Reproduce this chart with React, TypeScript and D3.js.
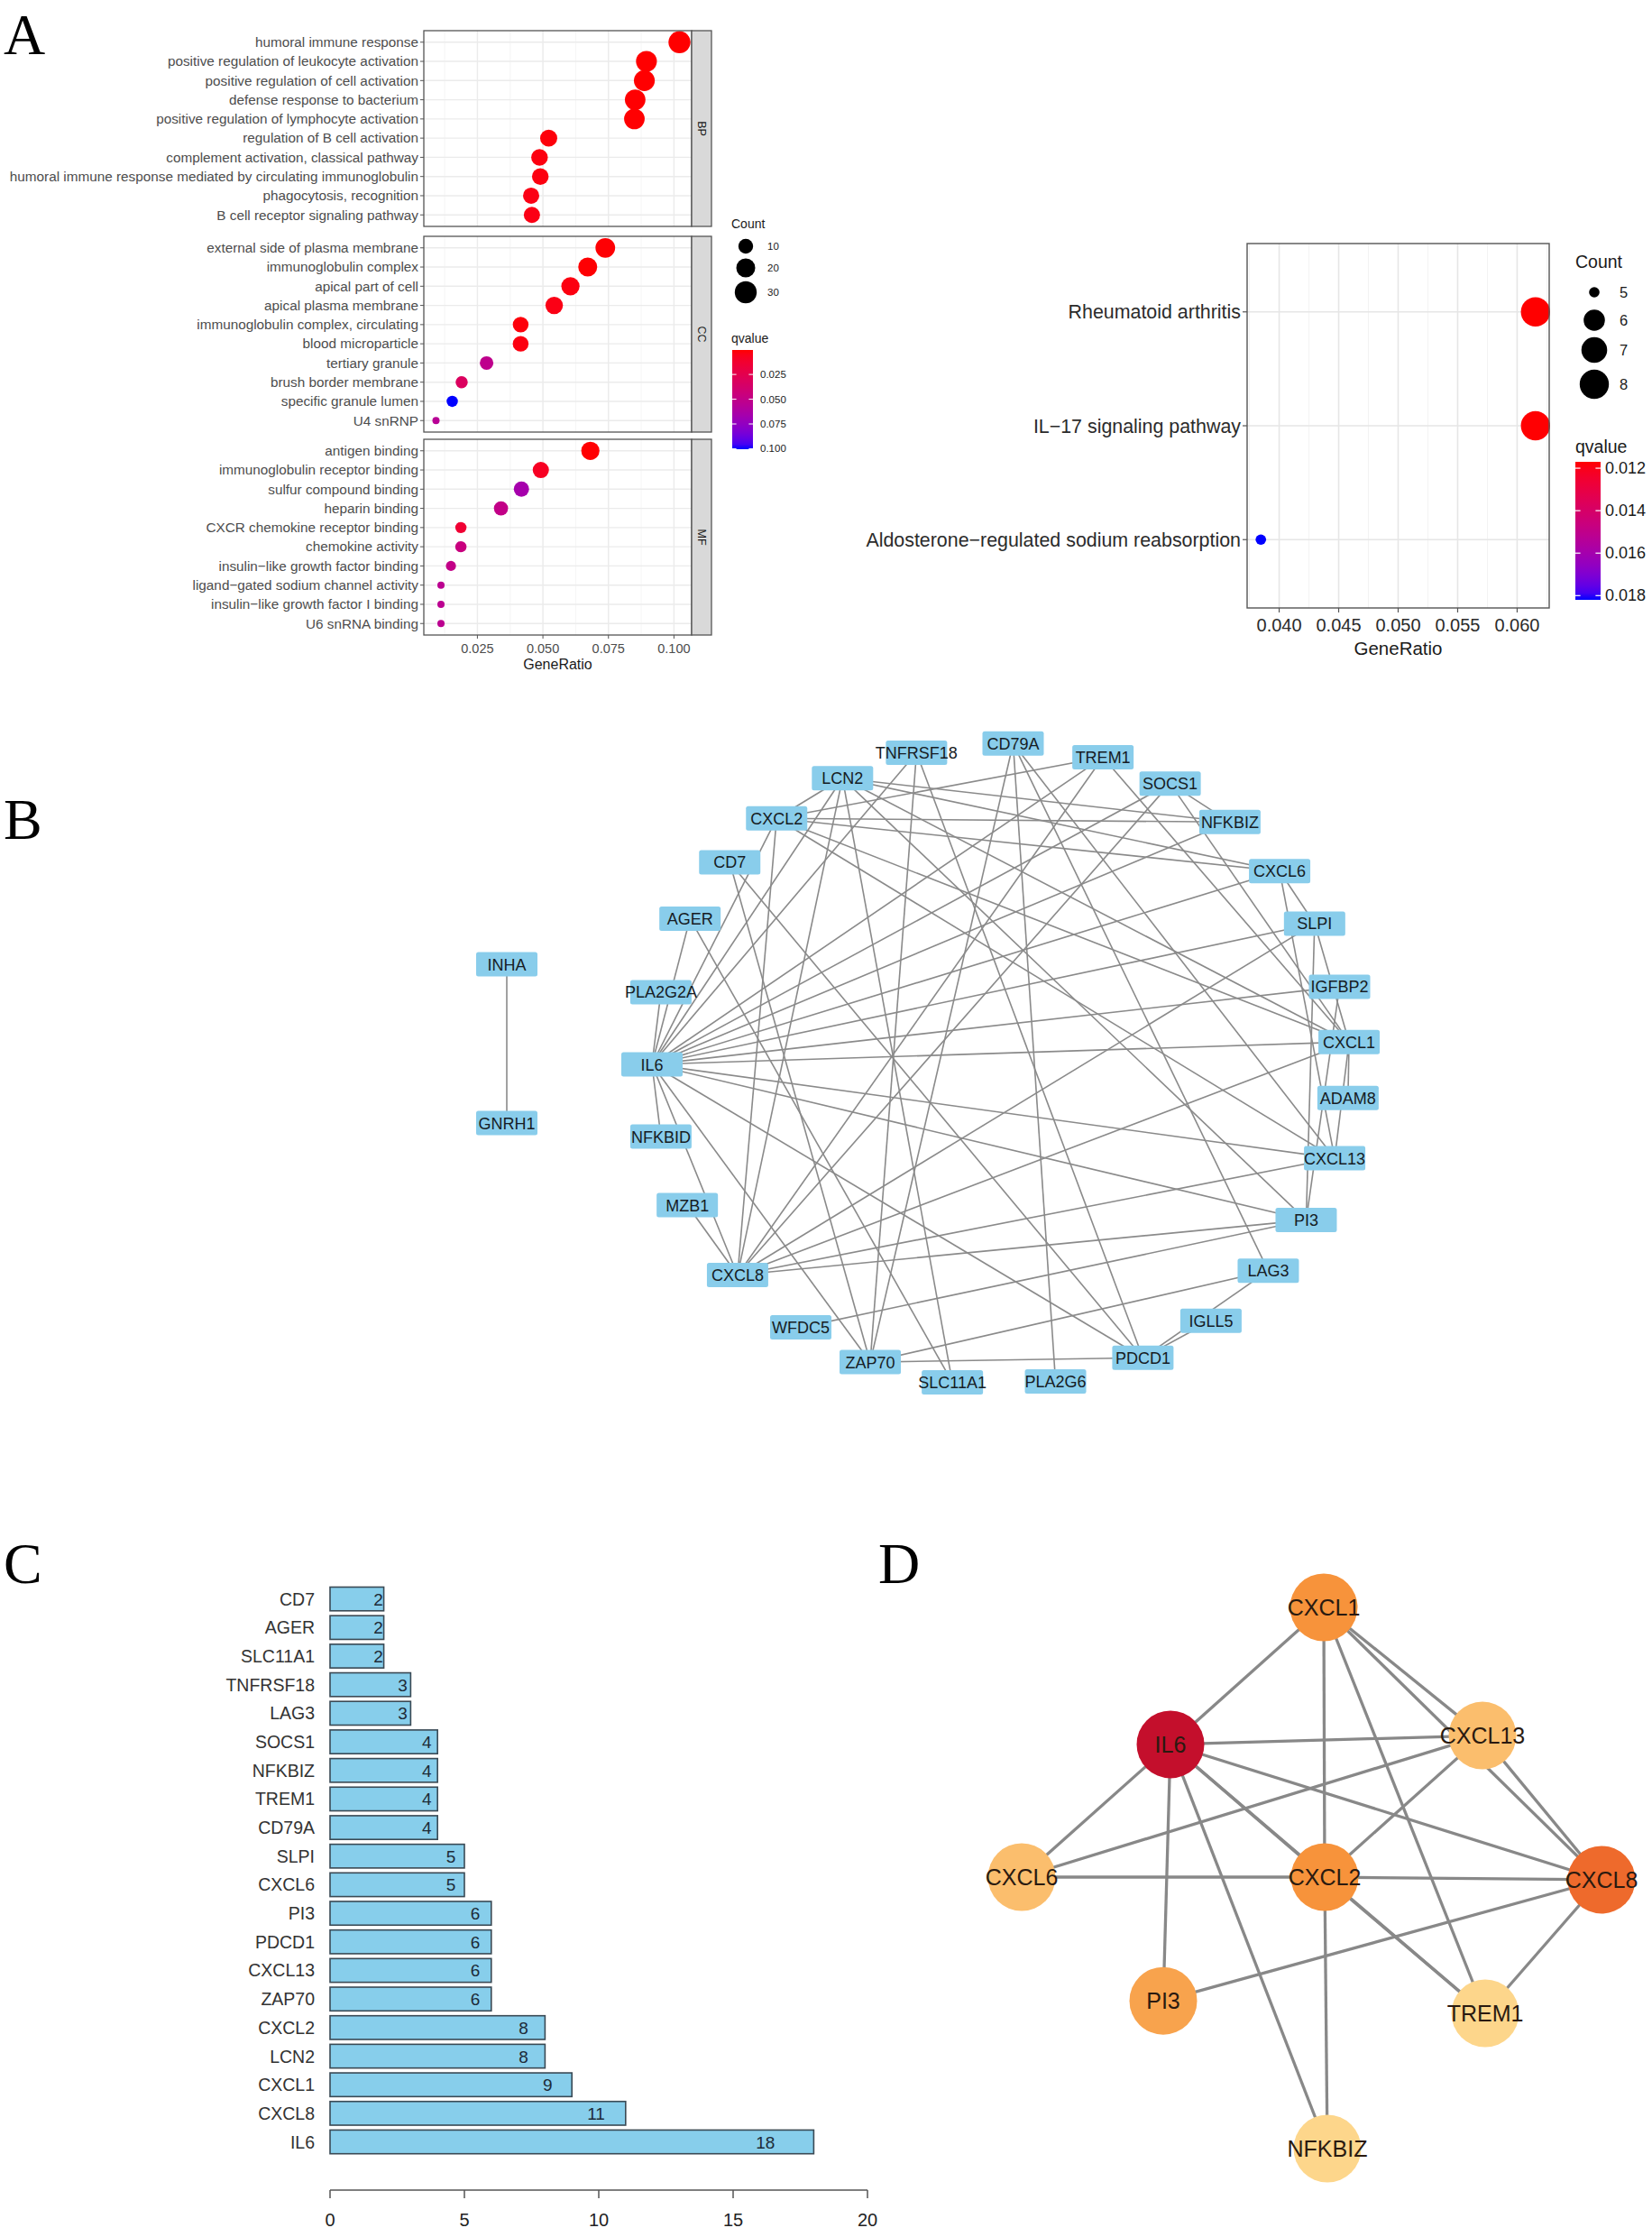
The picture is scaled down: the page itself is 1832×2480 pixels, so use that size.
import React from "react";
import * as d3 from "d3";

// ---------------- Panel A (GO enrichment) ----------------
const goBPTerms = [
  "humoral immune response",
  "positive regulation of leukocyte activation",
  "positive regulation of cell activation",
  "defense response to bacterium",
  "positive regulation of lymphocyte activation",
  "regulation of B cell activation",
  "complement activation, classical pathway",
  "humoral immune response mediated by circulating immunoglobulin",
  "phagocytosis, recognition",
  "B cell receptor signaling pathway",
];
const goBPRatio = [0.1021, 0.0895, 0.0887, 0.0852, 0.0849, 0.0522, 0.0487, 0.049, 0.0455, 0.0458];
const goBPCount = [30, 26, 26, 25, 25, 15, 14, 14, 13, 13];
const goBPQ = [0.0003, 0.0004, 0.0004, 0.0006, 0.0006, 0.002, 0.003, 0.003, 0.004, 0.004];

const goCCTerms = [
  "external side of plasma membrane",
  "immunoglobulin complex",
  "apical part of cell",
  "apical plasma membrane",
  "immunoglobulin complex, circulating",
  "blood microparticle",
  "tertiary granule",
  "brush border membrane",
  "specific granule lumen",
  "U4 snRNP",
];
const goCCRatio = [0.0738, 0.0671, 0.0605, 0.0543, 0.0415, 0.0415, 0.0285, 0.019, 0.0154, 0.0092];
const goCCCount = [22, 20, 18, 16, 12, 12, 8, 6, 5, 3];
const goCCQ = [0.001, 0.0008, 0.003, 0.004, 0.002, 0.003, 0.052, 0.032, 0.1005, 0.056];

const goMFTerms = [
  "antigen binding",
  "immunoglobulin receptor binding",
  "sulfur compound binding",
  "heparin binding",
  "CXCR chemokine receptor binding",
  "chemokine activity",
  "insulin\u2212like growth factor binding",
  "ligand\u2212gated sodium channel activity",
  "insulin\u2212like growth factor I binding",
  "U6 snRNA binding",
];
const goMFRatio = [0.0681, 0.0492, 0.0418, 0.034, 0.0187, 0.0187, 0.0149, 0.0111, 0.0111, 0.0111];
const goMFCount = [18, 13, 11, 9, 5, 5, 4, 3, 3, 3];
const goMFQ = [0.0006, 0.008, 0.066, 0.05, 0.014, 0.046, 0.05, 0.054, 0.054, 0.054];

const goStrips = ["BP", "CC", "MF"];
const goRatioTicks = [0.025, 0.05, 0.075, 0.1];
const goCountBreaks = [10, 20, 30];
const goQBreaks = [0.025, 0.05, 0.075, 0.1];

// ---------------- Panel A (KEGG) ----------------
const keggTerms = [
  "Rheumatoid arthritis",
  "IL\u221217 signaling pathway",
  "Aldosterone\u2212regulated sodium reabsorption",
];
const keggRatio = [0.06154, 0.06154, 0.03846];
const keggCount = [8, 8, 5];
const keggQ = [0.0117, 0.01172, 0.0182];
const keggRatioTicks = [0.04, 0.045, 0.05, 0.055, 0.06];
const keggCountBreaks = [5, 6, 7, 8];
const keggQBreaks = [0.012, 0.014, 0.016, 0.018];

// ---------------- Panel B (PPI network) ----------------
const ppiNodes = [
  "CD79A", "TREM1", "SOCS1", "NFKBIZ", "CXCL6", "SLPI", "IGFBP2", "CXCL1", "ADAM8", "CXCL13",
  "PI3", "LAG3", "IGLL5", "PDCD1", "PLA2G6", "SLC11A1", "ZAP70", "WFDC5", "CXCL8", "MZB1",
  "NFKBID", "IL6", "PLA2G2A", "AGER", "CD7", "CXCL2", "LCN2", "TNFRSF18",
];
// circular layout angle of each node (degrees, clockwise from top)
const ppiAngles = [2, 17, 29, 41, 53, 64, 76, 86, 96, 107, 119, 130, 143, 156, 171, 188, 202, 215, 229, 244, 257, 270, 283, 297, 309, 320, 333, 346];
const ppiEdges: [string, string][] = [
  ["IL6", "CXCL1"], ["IL6", "CXCL13"], ["IL6", "CXCL6"], ["IL6", "PI3"], ["IL6", "NFKBIZ"],
  ["IL6", "CXCL2"], ["IL6", "CXCL8"], ["IL6", "TREM1"], ["CXCL1", "CXCL2"], ["CXCL1", "TREM1"],
  ["CXCL1", "CXCL13"], ["CXCL1", "CXCL8"], ["CXCL13", "CXCL8"], ["CXCL13", "CXCL6"], ["CXCL13", "CXCL2"],
  ["CXCL6", "CXCL2"], ["CXCL2", "CXCL8"], ["CXCL2", "NFKBIZ"], ["CXCL2", "TREM1"], ["CXCL8", "PI3"],
  ["CXCL8", "TREM1"],
  ["IL6", "LCN2"], ["IL6", "SOCS1"], ["IL6", "PDCD1"], ["IL6", "ZAP70"], ["IL6", "SLPI"],
  ["IL6", "TNFRSF18"], ["IL6", "AGER"], ["IL6", "PLA2G2A"], ["IL6", "NFKBID"], ["IL6", "IGFBP2"],
  ["CXCL8", "LCN2"], ["CXCL8", "SLPI"], ["CXCL8", "MZB1"], ["CXCL8", "SOCS1"],
  ["CXCL1", "LCN2"], ["CXCL1", "SLPI"], ["CXCL1", "ADAM8"], ["CXCL1", "SOCS1"],
  ["CXCL13", "CD79A"], ["CXCL6", "LCN2"], ["CXCL6", "SLPI"], ["CXCL2", "LCN2"],
  ["PI3", "SLPI"], ["PI3", "WFDC5"], ["PI3", "LCN2"], ["PI3", "IGFBP2"],
  ["NFKBIZ", "SOCS1"], ["NFKBIZ", "LCN2"],
  ["PDCD1", "ZAP70"], ["PDCD1", "LAG3"], ["PDCD1", "TNFRSF18"], ["PDCD1", "IGLL5"], ["PDCD1", "CD7"],
  ["ZAP70", "CD79A"], ["ZAP70", "CD7"], ["ZAP70", "LAG3"], ["ZAP70", "TNFRSF18"],
  ["LAG3", "CD79A"], ["SLC11A1", "LCN2"], ["SLC11A1", "AGER"], ["CD79A", "PLA2G6"],
];
const pairNodes = ["INHA", "GNRH1"];
const pairLayout = [0, 1];
const pairEdges: [string, string][] = [["INHA", "GNRH1"]];

// ---------------- Panel C (degree) ----------------
const degreeGenes = [
  "CD7", "AGER", "SLC11A1", "TNFRSF18", "LAG3", "SOCS1", "NFKBIZ", "TREM1", "CD79A", "SLPI",
  "CXCL6", "PI3", "PDCD1", "CXCL13", "ZAP70", "CXCL2", "LCN2", "CXCL1", "CXCL8", "IL6",
];
const degreeValues = [2, 2, 2, 3, 3, 4, 4, 4, 4, 5, 5, 6, 6, 6, 6, 8, 8, 9, 11, 18];
const degreeTicks = [0, 5, 10, 15, 20];

// ---------------- Panel D (hub network) ----------------
const hubNodes = ["CXCL1", "IL6", "CXCL13", "CXCL6", "CXCL2", "CXCL8", "PI3", "TREM1", "NFKBIZ"];
const hubLayoutX = [335, 165, 511, 0, 336, 643, 157, 514, 339];
const hubLayoutY = [0, 154, 144, 303, 303, 306, 442, 456, 608];
const hubRank = [3, 1, 6, 6, 3, 2, 5, 8, 8];
const hubEdges: [string, string][] = [
  ["IL6", "CXCL1"], ["IL6", "CXCL13"], ["IL6", "CXCL6"], ["IL6", "PI3"], ["IL6", "NFKBIZ"],
  ["IL6", "CXCL2"], ["IL6", "CXCL8"], ["IL6", "TREM1"], ["CXCL1", "CXCL2"], ["CXCL1", "TREM1"],
  ["CXCL1", "CXCL13"], ["CXCL1", "CXCL8"], ["CXCL13", "CXCL8"], ["CXCL13", "CXCL6"], ["CXCL13", "CXCL2"],
  ["CXCL6", "CXCL2"], ["CXCL2", "CXCL8"], ["CXCL2", "NFKBIZ"], ["CXCL2", "TREM1"], ["CXCL8", "PI3"],
  ["CXCL8", "TREM1"],
];

const SANS = "'Liberation Sans', Arial, Helvetica, sans-serif";
const SERIF = "'Liberation Serif', 'Times New Roman', serif";

function fmt3(v: number) {
  return d3.format(".3f")(v);
}

function gradientStops(color: (v: number) => string, lo: number, hi: number) {
  return d3.range(0, 1.0001, 0.05).map((t, i) => (
    <stop key={i} offset={`${t * 100}%`} stopColor={color(lo + t * (hi - lo))} />
  ));
}

function GOPanel() {
  const facets = [
    { strip: goStrips[0], terms: goBPTerms, ratio: goBPRatio, count: goBPCount, q: goBPQ },
    { strip: goStrips[1], terms: goCCTerms, ratio: goCCRatio, count: goCCCount, q: goCCQ },
    { strip: goStrips[2], terms: goMFTerms, ratio: goMFRatio, count: goMFCount, q: goMFQ },
  ];
  const allR = [...goBPRatio, ...goCCRatio, ...goMFRatio];
  const allC = [...goBPCount, ...goCCCount, ...goMFCount];
  const allQ = [...goBPQ, ...goCCQ, ...goMFQ];
  const [r0, r1] = d3.extent(allR) as [number, number];
  const pad = (r1 - r0) * 0.05;
  const left = 470, right = 767, stripW = 22;
  const x = d3.scaleLinear().domain([r0 - pad, r1 + pad]).range([left, right]);
  const [c0, c1] = d3.extent(allC) as [number, number];
  const rad = d3.scaleLinear().domain([0, 1]).range([4, 12.2]);
  const size = (c: number) => rad(Math.sqrt((c - c0) / (c1 - c0)));
  const [q0, q1] = d3.extent(allQ) as [number, number];
  const color = d3.scaleLinear<string>().domain([q0, q1]).range(["#ff0000", "#0000ff"]).interpolate(d3.interpolateLab);
  const tops = [34, 262, 487];
  const H = 217;
  const minor = goRatioTicks.map((t) => t - 0.0125).concat([goRatioTicks[goRatioTicks.length - 1] + 0.0125])
    .filter((t) => t > x.domain()[0] && t < x.domain()[1]);
  const bottom = tops[2] + H;
  const barY = d3.scaleLinear().domain([q0, q1]).range([388, 498]);

  return (
    <g fontFamily={SANS}>
      {facets.map((f, fi) => {
        const top = tops[fi];
        const y = d3.scalePoint<string>().domain(f.terms).range([top, top + H]).padding(0.6);
        return (
          <g key={f.strip}>
            <rect x={left} y={top} width={right - left} height={H} fill="#fff" />
            {minor.map((t) => (
              <line key={"mn" + t} x1={x(t)} x2={x(t)} y1={top} y2={top + H} stroke="#f2f2f2" strokeWidth={0.8} />
            ))}
            {goRatioTicks.map((t) => (
              <line key={"mj" + t} x1={x(t)} x2={x(t)} y1={top} y2={top + H} stroke="#ebebeb" strokeWidth={1.4} />
            ))}
            {f.terms.map((t) => (
              <line key={"h" + t} x1={left} x2={right} y1={y(t)} y2={y(t)} stroke="#ebebeb" strokeWidth={1.4} />
            ))}
            {f.terms.map((t, i) => (
              <circle key={"d" + t} cx={x(f.ratio[i])} cy={y(t)} r={size(f.count[i])} fill={color(f.q[i])} />
            ))}
            <rect x={left} y={top} width={right - left} height={H} fill="none" stroke="#555" strokeWidth={1.3} />
            <rect x={right} y={top} width={stripW} height={H} fill="#d9d9d9" stroke="#555" strokeWidth={1.3} />
            <text
              transform={`translate(${right + stripW / 2 - 4.5},${top + H / 2}) rotate(90)`}
              textAnchor="middle"
              fontSize={12.5}
              fill="#1a1a1a"
            >
              {f.strip}
            </text>
            {f.terms.map((t) => (
              <g key={"l" + t}>
                <line x1={left - 4} x2={left} y1={y(t)} y2={y(t)} stroke="#555" strokeWidth={1} />
                <text x={left - 6} y={(y(t) as number) + 5.3} textAnchor="end" fontSize={15.3} fill="#4d4d4d">
                  {t}
                </text>
              </g>
            ))}
          </g>
        );
      })}
      {goRatioTicks.map((t) => (
        <g key={"xt" + t}>
          <line x1={x(t)} x2={x(t)} y1={bottom} y2={bottom + 4} stroke="#555" strokeWidth={1} />
          <text x={x(t)} y={bottom + 20} textAnchor="middle" fontSize={14.5} fill="#4d4d4d">
            {fmt3(t)}
          </text>
        </g>
      ))}
      <text x={(left + right) / 2} y={bottom + 38} textAnchor="middle" fontSize={16} fill="#1a1a1a">
        GeneRatio
      </text>
      {/* legends */}
      <text x={811} y={253} fontSize={14} fill="#1a1a1a">Count</text>
      {goCountBreaks.map((c, i) => (
        <g key={"cb" + c}>
          <circle cx={827} cy={[273, 297, 324][i]} r={size(c)} fill="#000" />
          <text x={851} y={[273, 297, 324][i] + 4} fontSize={11.5} fill="#1a1a1a">{c}</text>
        </g>
      ))}
      <text x={811} y={380} fontSize={14} fill="#1a1a1a">qvalue</text>
      <defs>
        <linearGradient id="goGrad" x1="0" y1="0" x2="0" y2="1">
          {gradientStops(color, q0, q1)}
        </linearGradient>
      </defs>
      <rect x={812} y={388} width={23} height={110} fill="url(#goGrad)" />
      {goQBreaks.map((b) => (
        <g key={"qb" + b}>
          <line x1={812} x2={816.6} y1={barY(b)} y2={barY(b)} stroke="#fff" strokeWidth={1} />
          <line x1={830.4} x2={835} y1={barY(b)} y2={barY(b)} stroke="#fff" strokeWidth={1} />
          <text x={843} y={barY(b) + 4} fontSize={11.5} fill="#1a1a1a">{fmt3(b)}</text>
        </g>
      ))}
    </g>
  );
}

function KEGGPanel() {
  const left = 1383, right = 1718, top = 270, bottom = 674;
  const [r0, r1] = d3.extent(keggRatio) as [number, number];
  const pad = (r1 - r0) * 0.05;
  const x = d3.scaleLinear().domain([r0 - pad, r1 + pad]).range([left, right]);
  const y = d3.scalePoint<string>().domain(keggTerms).range([top, bottom]).padding(0.6);
  const [c0, c1] = d3.extent(keggCount) as [number, number];
  const rad = d3.scaleLinear().domain([0, 1]).range([5.8, 16.2]);
  const size = (c: number) => rad(Math.sqrt((c - c0) / (c1 - c0)));
  const [q0, q1] = d3.extent(keggQ) as [number, number];
  const color = d3.scaleLinear<string>().domain([q0, q1]).range(["#ff0000", "#0000ff"]).interpolate(d3.interpolateLab);
  const minor = keggRatioTicks.map((t) => t - 0.0025).concat([keggRatioTicks[keggRatioTicks.length - 1] + 0.0025])
    .filter((t) => t > x.domain()[0] && t < x.domain()[1]);
  const barY = d3.scaleLinear().domain([q0, q1]).range([512, 665]);
  const legendY = [324, 355, 388, 426];
  return (
    <g fontFamily={SANS}>
      {minor.map((t) => (
        <line key={"mn" + t} x1={x(t)} x2={x(t)} y1={top} y2={bottom} stroke="#f2f2f2" strokeWidth={0.9} />
      ))}
      {keggRatioTicks.map((t) => (
        <line key={"mj" + t} x1={x(t)} x2={x(t)} y1={top} y2={bottom} stroke="#e6e6e6" strokeWidth={1.6} />
      ))}
      {keggTerms.map((t) => (
        <line key={"h" + t} x1={left} x2={right} y1={y(t)} y2={y(t)} stroke="#e6e6e6" strokeWidth={1.6} />
      ))}
      {keggTerms.map((t, i) => (
        <circle key={"d" + t} cx={x(keggRatio[i])} cy={y(t)} r={size(keggCount[i])} fill={color(keggQ[i])} />
      ))}
      <rect x={left} y={top} width={right - left} height={bottom - top} fill="none" stroke="#555" strokeWidth={1.4} />
      {keggTerms.map((t) => (
        <g key={"l" + t}>
          <line x1={left - 5} x2={left} y1={y(t)} y2={y(t)} stroke="#555" strokeWidth={1.2} />
          <text x={left - 7} y={(y(t) as number) + 7.5} textAnchor="end" fontSize={21.4} fill="#2b2b2b">{t}</text>
        </g>
      ))}
      {keggRatioTicks.map((t) => (
        <g key={"xt" + t}>
          <line x1={x(t)} x2={x(t)} y1={bottom} y2={bottom + 5} stroke="#555" strokeWidth={1.2} />
          <text x={x(t)} y={bottom + 26} textAnchor="middle" fontSize={20} fill="#2b2b2b">{fmt3(t)}</text>
        </g>
      ))}
      <text x={(left + right) / 2} y={bottom + 52} textAnchor="middle" fontSize={20.5} fill="#1a1a1a">GeneRatio</text>
      <text x={1747} y={297} fontSize={19.5} fill="#1a1a1a">Count</text>
      {keggCountBreaks.map((c, i) => (
        <g key={"cb" + c}>
          <circle cx={1768} cy={legendY[i]} r={size(c)} fill="#000" />
          <text x={1796} y={legendY[i] + 6} fontSize={16.5} fill="#1a1a1a">{c}</text>
        </g>
      ))}
      <text x={1747} y={502} fontSize={19.5} fill="#1a1a1a">qvalue</text>
      <defs>
        <linearGradient id="keggGrad" x1="0" y1="0" x2="0" y2="1">
          {gradientStops(color, q0, q1)}
        </linearGradient>
      </defs>
      <rect x={1747} y={512} width={28} height={153} fill="url(#keggGrad)" />
      {keggQBreaks.map((b) => (
        <g key={"qb" + b}>
          <line x1={1747} x2={1752.6} y1={barY(b)} y2={barY(b)} stroke="#fff" strokeWidth={1.2} />
          <line x1={1769.4} x2={1775} y1={barY(b)} y2={barY(b)} stroke="#fff" strokeWidth={1.2} />
          <text x={1780} y={barY(b) + 6} fontSize={18} fill="#1a1a1a">{fmt3(b)}</text>
        </g>
      ))}
    </g>
  );
}

function NodeBox({ x, y, label }: { x: number; y: number; label: string }) {
  const w = 68, h = 27;
  return (
    <g>
      <rect x={x - w / 2} y={y - h / 2} width={w} height={h} rx={2.5} fill="#89CDEB" />
      <text x={x} y={y + 6.5} textAnchor="middle" fontSize={18} fill="#161c24" fontFamily={SANS}>
        {label}
      </text>
    </g>
  );
}

function PPIPanel() {
  const px = d3.scaleLinear().domain([-1, 1]).range([723, 1497]);
  const py = d3.scaleLinear().domain([-1, 1]).range([824, 1536]);
  const pos = new Map<string, [number, number]>();
  ppiNodes.forEach((n, i) => {
    const a = (ppiAngles[i] * Math.PI) / 180;
    pos.set(n, [px(Math.sin(a)), py(-Math.cos(a))]);
  });
  const iy = d3.scaleLinear().domain([0, 1]).range([1069, 1245]);
  pairNodes.forEach((n, i) => pos.set(n, [562, iy(pairLayout[i])]));
  const edges = [...ppiEdges, ...pairEdges];
  return (
    <g>
      {edges.map(([a, b], i) => {
        const pa = pos.get(a)!, pb = pos.get(b)!;
        return <line key={i} x1={pa[0]} y1={pa[1]} x2={pb[0]} y2={pb[1]} stroke="#8a8a8a" strokeWidth={1.6} />;
      })}
      {[...ppiNodes, ...pairNodes].map((n) => {
        const p = pos.get(n)!;
        return <NodeBox key={n} x={p[0]} y={p[1]} label={n} />;
      })}
    </g>
  );
}

function DegreePanel() {
  const x = d3.scaleLinear().domain([0, 20]).range([366, 962]);
  const y = d3.scaleBand<string>().domain(degreeGenes).range([1756.8, 2390.4]).paddingInner(0.17).paddingOuter(0.085);
  const axisY = 2428;
  return (
    <g fontFamily={SANS}>
      {degreeGenes.map((g, i) => (
        <g key={g}>
          <rect
            x={x(0)}
            y={y(g)}
            width={x(degreeValues[i]) - x(0)}
            height={y.bandwidth()}
            fill="#87CEEB"
            stroke="#3a4a55"
            strokeWidth={1.6}
          />
          <text x={x(degreeValues[i] * 0.9)} y={(y(g) as number) + y.bandwidth() / 2 + 7} textAnchor="middle" fontSize={19} fill="#1d2b38">
            {degreeValues[i]}
          </text>
          <text x={349} y={(y(g) as number) + y.bandwidth() / 2 + 7} textAnchor="end" fontSize={19.5} fill="#333">
            {g}
          </text>
        </g>
      ))}
      <line x1={x(0)} x2={x(20)} y1={axisY} y2={axisY} stroke="#555" strokeWidth={1.5} />
      {degreeTicks.map((t) => (
        <g key={t}>
          <line x1={x(t)} x2={x(t)} y1={axisY} y2={axisY + 9} stroke="#555" strokeWidth={1.5} />
          <text x={x(t)} y={axisY + 40} textAnchor="middle" fontSize={20} fill="#222">{t}</text>
        </g>
      ))}
    </g>
  );
}

function HubPanel() {
  const x = d3.scaleLinear().domain([0, 643]).range([1133, 1776]);
  const y = d3.scaleLinear().domain([0, 608]).range([1782, 2382]);
  const color = d3.scaleLinear<string>()
    .domain([1, 2, 3, 5, 6, 8])
    .range(["#C40F2C", "#EE6A2C", "#F7933B", "#F8A34D", "#FBBE6D", "#FDD68B"]);
  const pos = new Map<string, [number, number]>();
  hubNodes.forEach((n, i) => pos.set(n, [x(hubLayoutX[i]), y(hubLayoutY[i])]));
  return (
    <g fontFamily={SANS}>
      {hubEdges.map(([a, b], i) => {
        const pa = pos.get(a)!, pb = pos.get(b)!;
        return <line key={i} x1={pa[0]} y1={pa[1]} x2={pb[0]} y2={pb[1]} stroke="#888" strokeWidth={3.3} />;
      })}
      {hubNodes.map((n, i) => {
        const p = pos.get(n)!;
        return (
          <g key={n}>
            <circle cx={p[0]} cy={p[1]} r={37.5} fill={color(hubRank[i])} />
            <text x={p[0]} y={p[1] + 9} textAnchor="middle" fontSize={25} fill="#2a1a10">{n}</text>
          </g>
        );
      })}
    </g>
  );
}

export default function App() {
  return (
    <svg
      width={1832}
      height={2480}
      viewBox="0 0 1832 2480"
      style={{ position: "absolute", left: 0, top: 0, background: "#fff" }}
    >
      <rect x={0} y={0} width={1832} height={2480} fill="#fff" />
      <g fontFamily={SERIF} fontSize={64} fill="#000">
        <text x={4} y={60}>A</text>
        <text x={4} y={930}>B</text>
        <text x={4} y={1755}>C</text>
        <text x={974} y={1755}>D</text>
      </g>
      <GOPanel />
      <KEGGPanel />
      <PPIPanel />
      <DegreePanel />
      <HubPanel />
    </svg>
  );
}
